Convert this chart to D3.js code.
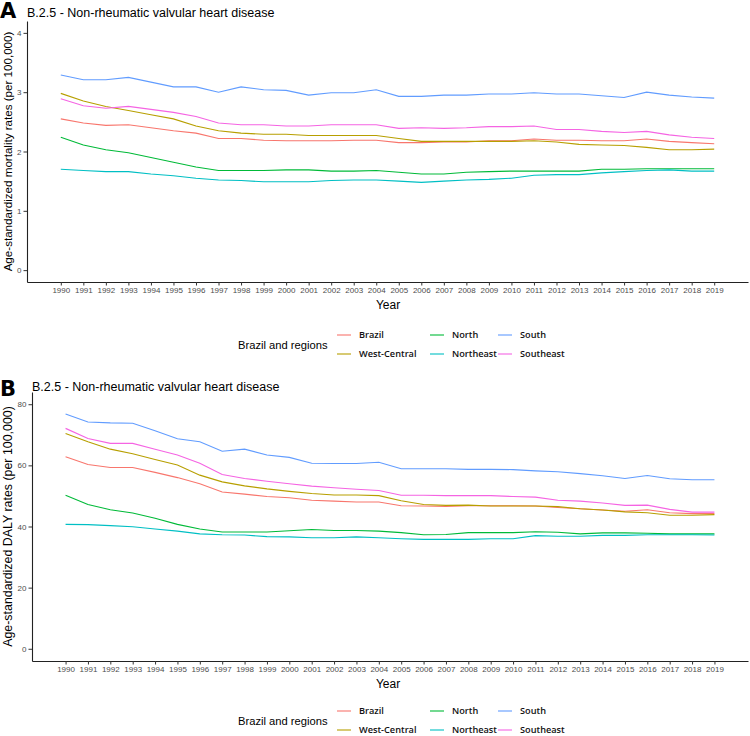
<!DOCTYPE html>
<html>
<head>
<meta charset="utf-8">
<script src="https://cdn.jsdelivr.net/npm/d3@7"></script>
<style>
  html, body { margin: 0; padding: 0; background: #fff; }
  svg { display: block; font-family: "Liberation Sans", Arial, sans-serif; }
</style>
</head>
<body>
<svg id="chart" width="750" height="736"></svg>
<script>
// ---------- DATA ----------
const years = d3.range(1990, 2020);
const regions = ["Brazil", "West-Central", "North", "Northeast", "South", "Southeast"];
const regionColors = ["#F8766D", "#B79F00", "#00BA38", "#00BFC4", "#619CFF", "#F564E3"];

const mortBrazil      = [2.55,2.48,2.44,2.45,2.40,2.35,2.31,2.22,2.22,2.19,2.18,2.18,2.18,2.19,2.19,2.15,2.15,2.16,2.16,2.18,2.18,2.21,2.19,2.19,2.18,2.18,2.21,2.17,2.15,2.13];
const mortWestCentral = [2.98,2.85,2.76,2.69,2.62,2.55,2.43,2.35,2.31,2.29,2.29,2.27,2.27,2.27,2.27,2.22,2.17,2.17,2.17,2.17,2.17,2.18,2.16,2.12,2.11,2.10,2.07,2.03,2.03,2.04];
const mortNorth       = [2.24,2.11,2.03,1.98,1.90,1.82,1.74,1.68,1.68,1.68,1.69,1.69,1.67,1.67,1.68,1.65,1.62,1.62,1.65,1.66,1.67,1.67,1.67,1.67,1.70,1.70,1.71,1.71,1.71,1.71];
const mortNortheast   = [1.70,1.68,1.66,1.66,1.62,1.59,1.55,1.52,1.51,1.49,1.49,1.49,1.51,1.52,1.52,1.50,1.48,1.50,1.52,1.53,1.55,1.60,1.61,1.61,1.64,1.66,1.68,1.69,1.67,1.67];
const mortSouth       = [3.29,3.21,3.21,3.25,3.17,3.09,3.09,3.00,3.09,3.04,3.03,2.95,2.99,2.99,3.04,2.93,2.93,2.95,2.95,2.97,2.97,2.99,2.97,2.97,2.94,2.91,3.00,2.95,2.92,2.90];
const mortSoutheast   = [2.89,2.77,2.73,2.76,2.71,2.66,2.59,2.48,2.45,2.45,2.43,2.43,2.45,2.45,2.45,2.39,2.40,2.39,2.40,2.42,2.42,2.43,2.37,2.37,2.34,2.32,2.34,2.28,2.24,2.22];

const dalyBrazil      = [62.8,60.3,59.3,59.3,57.7,56.0,54.0,51.3,50.6,49.8,49.4,48.6,48.3,48.0,48.0,46.8,46.7,46.6,46.8,46.8,46.8,46.7,46.2,45.8,45.4,45.0,45.5,44.5,44.2,44.2];
const dalyWestCentral = [70.4,67.7,65.3,63.8,61.9,60.1,56.8,54.6,53.3,52.3,51.5,50.8,50.3,50.3,50.1,48.4,47.2,46.9,47.0,46.7,46.7,46.7,46.5,45.8,45.4,44.8,44.5,43.7,43.7,43.9];
const dalyNorth       = [50.2,47.2,45.5,44.4,42.7,40.7,39.2,38.2,38.2,38.2,38.6,39.0,38.7,38.7,38.5,38.0,37.3,37.4,38.0,38.0,38.0,38.3,38.1,37.6,37.9,37.9,37.8,37.6,37.6,37.6];
const dalyNortheast   = [40.7,40.6,40.3,39.9,39.2,38.5,37.6,37.3,37.2,36.7,36.6,36.3,36.3,36.6,36.3,36.0,35.8,35.8,35.8,36.0,36.0,37.0,36.8,36.8,37.1,37.1,37.3,37.3,37.3,37.2];
const dalySouth       = [76.8,74.2,73.9,73.8,71.3,68.7,67.7,64.6,65.3,63.4,62.6,60.7,60.6,60.6,61.0,58.9,58.9,58.9,58.7,58.7,58.6,58.2,57.9,57.3,56.6,55.7,56.7,55.6,55.3,55.3];
const dalySoutheast   = [72.1,68.8,67.2,67.2,65.3,63.4,60.7,57.0,55.7,54.8,54.0,53.2,52.7,52.2,51.8,50.2,50.2,50.1,50.1,50.1,49.8,49.6,48.6,48.3,47.7,46.9,47.0,45.6,44.7,44.7];

const mortTicks = [0, 1, 2, 3, 4];
const dalyTicks = [0, 20, 40, 60, 80];

const panelTitle = "B.2.5 - Non-rheumatic valvular heart disease";
const legendTitle = "Brazil and regions";
const xTitle = "Year";

// ---------- DRAW ----------
const svg = d3.select("#chart");
const color = d3.scaleOrdinal().domain(regions).range(regionColors);

const panels = [
  { letter: "A", ytitle: "Age-standardized mortality rates (per 100,000)",
    series: [mortBrazil, mortWestCentral, mortNorth, mortNortheast, mortSouth, mortSoutheast],
    ticks: mortTicks, ydom: [-0.2, 4.2],
    left: 27, right: 748, top: 21, bottom: 282,
    letterY: 18, titleY: 17, ytitleSize: 11.6, ytitleX: 12, yearY: 309, legY: 335 },
  { letter: "B", ytitle: "Age-standardized DALY rates (per 100,000)",
    series: [dalyBrazil, dalyWestCentral, dalyNorth, dalyNortheast, dalySouth, dalySoutheast],
    ticks: dalyTicks, ydom: [-4, 84],
    left: 32, right: 748, top: 392, bottom: 661,
    letterY: 396, titleY: 391, ytitleSize: 12.4, ytitleX: 12, yearY: 688, legY: 711 }
];

panels.forEach(p => {
  const g = svg.append("g");
  const x = d3.scaleLinear().domain([1988.5, 2020.5]).range([p.left, p.right]);
  const y = d3.scaleLinear().domain(p.ydom).range([p.bottom, p.top]);

  // panel letter and title
  g.append("text").attr("x", 0).attr("y", p.letterY)
    .attr("font-size", 21).attr("font-weight", "bold").attr("fill", "#000")
    .attr("font-family", "'DejaVu Sans', sans-serif")
    .text(p.letter);
  g.append("text").attr("x", p.left).attr("y", p.titleY)
    .attr("font-size", 12.5).attr("fill", "#000").text(panelTitle);

  // lines
  const line = d3.line().x((d, i) => x(years[i])).y(d => y(d));
  p.series.forEach((s, k) => {
    g.append("path").datum(s)
      .attr("d", line)
      .attr("fill", "none")
      .attr("stroke", color(regions[k]))
      .attr("stroke-width", 1.1);
  });

  // y axis
  const yAxis = d3.axisLeft(y).tickValues(p.ticks).tickFormat(d3.format("d"))
    .tickSize(3.5).tickPadding(2).tickSizeOuter(0);
  const ya = g.append("g").attr("transform", `translate(${p.left},0)`).call(yAxis);
  ya.select(".domain").attr("stroke", "#222").attr("stroke-width", 1.1);
  ya.selectAll(".tick line").attr("stroke", "#333");
  ya.selectAll(".tick text").attr("font-size", 8).attr("fill", "#4d4d4d")
    .attr("font-family", "'Liberation Sans', Arial, sans-serif");

  // x axis
  const xAxis = d3.axisBottom(x).tickValues(years).tickFormat(d3.format("d"))
    .tickSize(3.5).tickPadding(2).tickSizeOuter(0);
  const xa = g.append("g").attr("transform", `translate(0,${p.bottom})`).call(xAxis);
  xa.select(".domain").attr("stroke", "#222").attr("stroke-width", 1.1);
  xa.selectAll(".tick line").attr("stroke", "#333");
  xa.selectAll(".tick text").attr("font-size", 8).attr("fill", "#4d4d4d")
    .attr("font-family", "'Liberation Sans', Arial, sans-serif");

  // axis titles
  g.append("text")
    .attr("transform", `translate(${p.ytitleX},${(p.top + p.bottom) / 2}) rotate(-90)`)
    .attr("text-anchor", "middle").attr("font-size", p.ytitleSize).attr("fill", "#000")
    .text(p.ytitle);
  g.append("text").attr("x", 388).attr("y", p.yearY)
    .attr("text-anchor", "middle").attr("font-size", 12).attr("fill", "#000")
    .text(xTitle);

  // legend
  const leg = g.append("g");
  const rowGap = 19;
  leg.append("text").attr("x", 238).attr("y", p.legY + rowGap / 2 + 4)
    .attr("font-size", 11.2).attr("fill", "#000").text(legendTitle);
  const colKeyX = [337, 430, 498];
  regions.forEach((r, k) => {
    const col = Math.floor(k / 2), row = k % 2;
    const ly = p.legY + row * rowGap;
    leg.append("line")
      .attr("x1", colKeyX[col]).attr("x2", colKeyX[col] + 14)
      .attr("y1", ly).attr("y2", ly)
      .attr("stroke", color(r)).attr("stroke-width", 1.1);
    leg.append("text")
      .attr("x", colKeyX[col] + 22).attr("y", ly + 3.3)
      .attr("font-size", 9.2).attr("font-weight", 600).attr("fill", "#111")
      .attr("font-family", "'Open Sans', sans-serif")
      .text(r);
  });
});
</script>
</body>
</html>
